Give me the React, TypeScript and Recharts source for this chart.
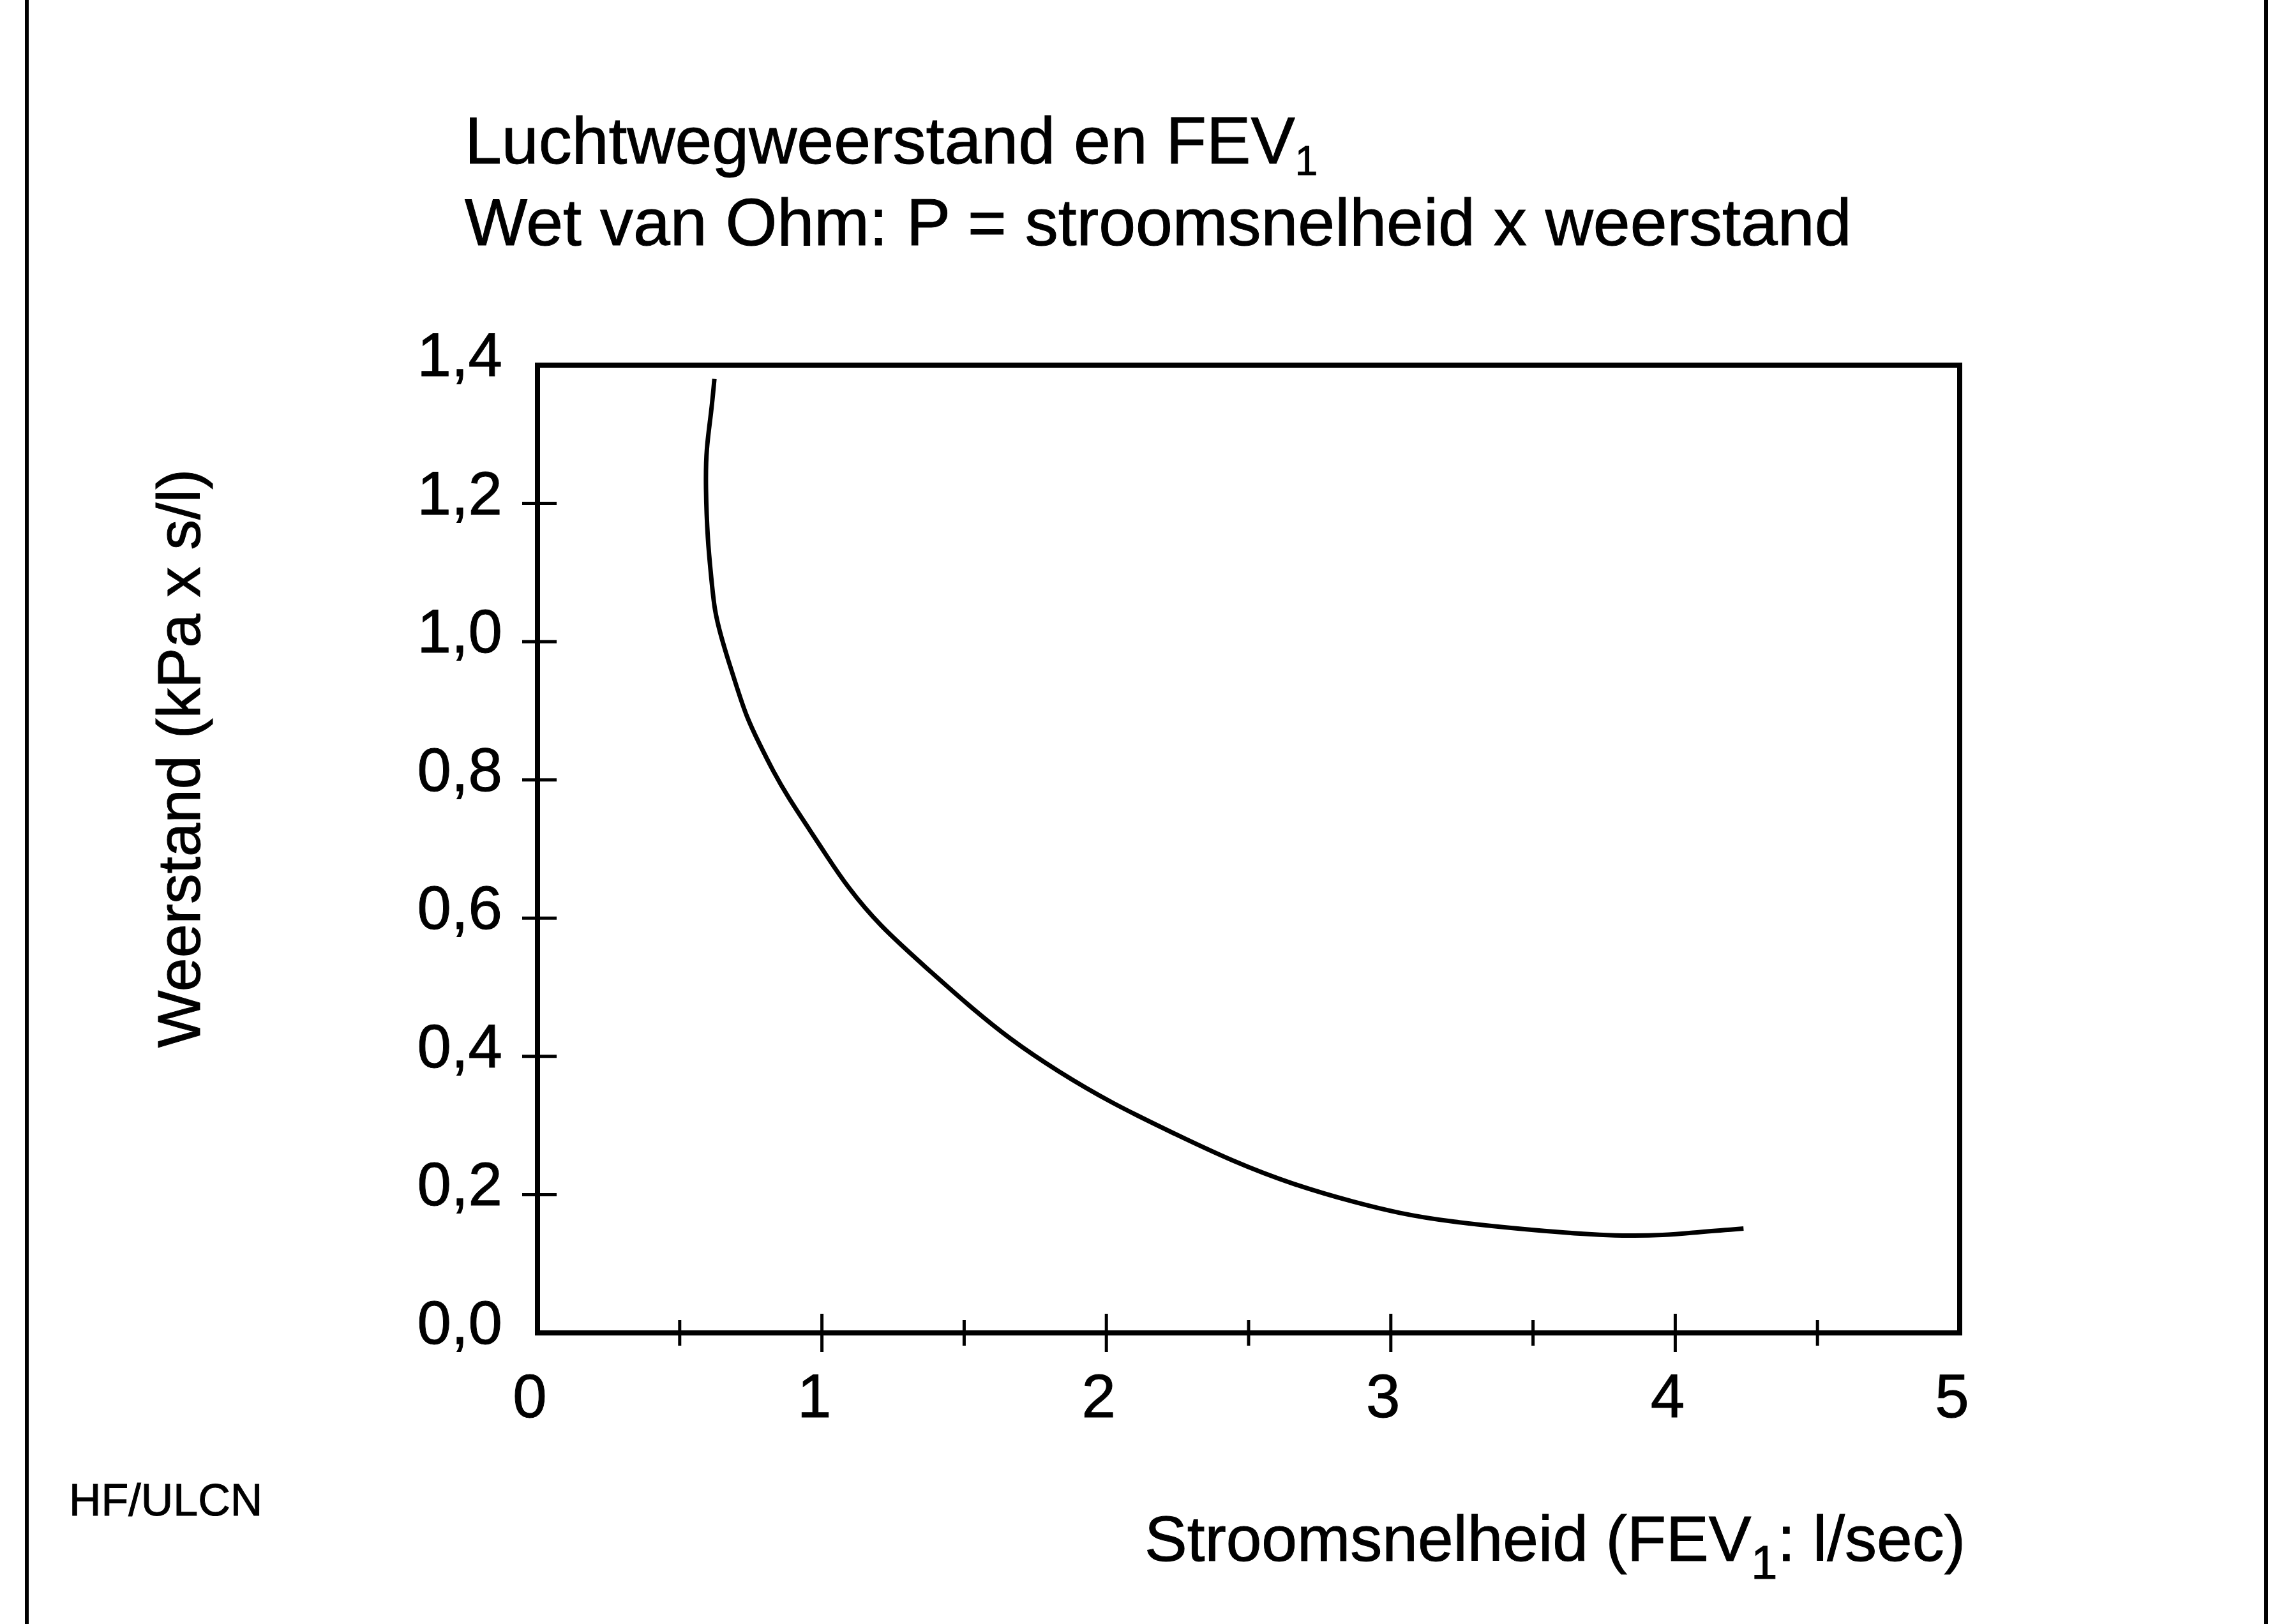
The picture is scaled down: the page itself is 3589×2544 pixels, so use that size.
import React from "react";
import { LineChart, Line, XAxis, YAxis, ReferenceArea } from "recharts";

// Luchtwegweerstand tegen stroomsnelheid (FEV1)
const flow = [
  0.622, 0.611, 0.593, 0.591, 0.598, 0.611, 0.622, 0.645, 0.672, 0.701, 0.735,
  0.778, 0.829, 0.881, 0.95, 1.02, 1.09, 1.2, 1.37, 1.515, 1.66, 1.83, 2.02,
  2.23, 2.445, 2.66, 2.88, 3.03, 3.2, 3.51, 3.77, 3.97, 4.08, 4.24,
];
const resistance = [
  1.38, 1.331, 1.279, 1.225, 1.146, 1.093, 1.045, 1.008, 0.971, 0.934, 0.891,
  0.854, 0.812, 0.775, 0.732, 0.688, 0.645, 0.59, 0.527, 0.474, 0.425, 0.378,
  0.332, 0.29, 0.248, 0.214, 0.188, 0.173, 0.161, 0.148, 0.14, 0.141, 0.146,
  0.151,
];

const xTicks = [0, 0.5, 1, 1.5, 2, 2.5, 3, 3.5, 4, 4.5, 5];
const yTicks = [0, 0.2, 0.4, 0.6, 0.8, 1.0, 1.2, 1.4];

const titleLine1 = "Luchtwegweerstand en FEV";
const titleLine2 = "Wet van Ohm: P = stroomsnelheid x weerstand";
const yTitle = "Weerstand (kPa x s/l)";
const xTitleStart = "Stroomsnelheid (FEV";
const xTitleEnd = ": l/sec)";
const credit = "HF/ULCN";

const data = flow.map((q, i) => ({ q, r: resistance[i] }));

const W = 3589;
const H = 2544;
const FONT = "'Liberation Sans', Arial, Helvetica, sans-serif";

// x-as: lange streepjes op hele getallen, korte op halve, beide door de as heen
const XTick = (props: any) => {
  const { x, y, payload } = props;
  const v = payload.value;
  const major = Number.isInteger(v);
  const len = major ? 30 : 20;
  return (
    <g>
      {v > 0 && v < 5 && (
        <line x1={x} x2={x} y1={y - len} y2={y + len} stroke="#000" strokeWidth={5} />
      )}
      {major && (
        <text
          x={x - 12}
          y={y + 132}
          textAnchor="middle"
          fontSize={96}
          fontFamily={FONT}
          fill="#000"
          stroke="#000"
          strokeWidth={1}
        >
          {String(v)}
        </text>
      )}
    </g>
  );
};

// y-as: komma als decimaalteken
const YTick = (props: any) => {
  const { x, y, payload } = props;
  const v = payload.value;
  return (
    <g>
      {v > 0.01 && v < 1.39 && (
        <line x1={x - 24} x2={x + 30} y1={y} y2={y} stroke="#000" strokeWidth={5} />
      )}
      <text
        x={x - 55}
        y={y + 17}
        textAnchor="end"
        fontSize={96}
        fontFamily={FONT}
        fill="#000"
        stroke="#000"
        strokeWidth={1}
      >
        {v.toFixed(1).replace(".", ",")}
      </text>
    </g>
  );
};

const App: React.FC = () => {
  return (
    <div style={{ position: "absolute", left: 0, top: 0, width: W, height: H, background: "#fff" }}>
      <LineChart
        width={W}
        height={H}
        data={data}
        margin={{ top: 572, right: 519, bottom: 306, left: 642 }}
      >
        <XAxis
          dataKey="q"
          type="number"
          domain={[0, 5]}
          ticks={xTicks}
          interval={0}
          tick={XTick}
          tickLine={false}
          axisLine={false}
          tickSize={0}
          tickMargin={0}
          height={150}
          allowDataOverflow
        />
        <YAxis
          type="number"
          domain={[0, 1.4]}
          ticks={yTicks}
          interval={0}
          tick={YTick}
          tickLine={false}
          axisLine={false}
          tickSize={0}
          tickMargin={0}
          width={200}
          allowDataOverflow
        />
        <ReferenceArea x1={0} x2={5} y1={0} y2={1.4} fill="none" stroke="#000" strokeWidth={8} />
        <Line
          type="basis"
          dataKey="r"
          stroke="#000"
          strokeWidth={7}
          dot={false}
          activeDot={false}
          isAnimationActive={false}
        />
      </LineChart>

      {/* titels, astitels en kader */}
      <svg
        width={W}
        height={H}
        style={{ position: "absolute", left: 0, top: 0, pointerEvents: "none" }}
        fontFamily={FONT}
        fill="#000"
        stroke="#000"
        strokeWidth={1}
      >
        <line x1={42} x2={42} y1={0} y2={H} strokeWidth={6} />
        <line x1={3550} x2={3550} y1={0} y2={H} strokeWidth={6} />

        <text x={728} y={256} fontSize={104}>
          {titleLine1}
          <tspan dy={18} fontSize={64}>1</tspan>
        </text>
        <text x={728} y={384} fontSize={104}>
          {titleLine2}
        </text>

        <text
          x={313}
          y={1188}
          fontSize={95}
          textAnchor="middle"
          transform="rotate(-90, 313, 1188)"
        >
          {yTitle}
        </text>

        <text x={3079} y={2445} fontSize={100} textAnchor="end">
          {xTitleStart}
          <tspan dy={28} fontSize={74}>1</tspan>
          <tspan dy={-28} fontSize={100}>{xTitleEnd}</tspan>
        </text>

        <text x={108} y={2374} fontSize={70}>
          {credit}
        </text>
      </svg>
    </div>
  );
};

export default App;
